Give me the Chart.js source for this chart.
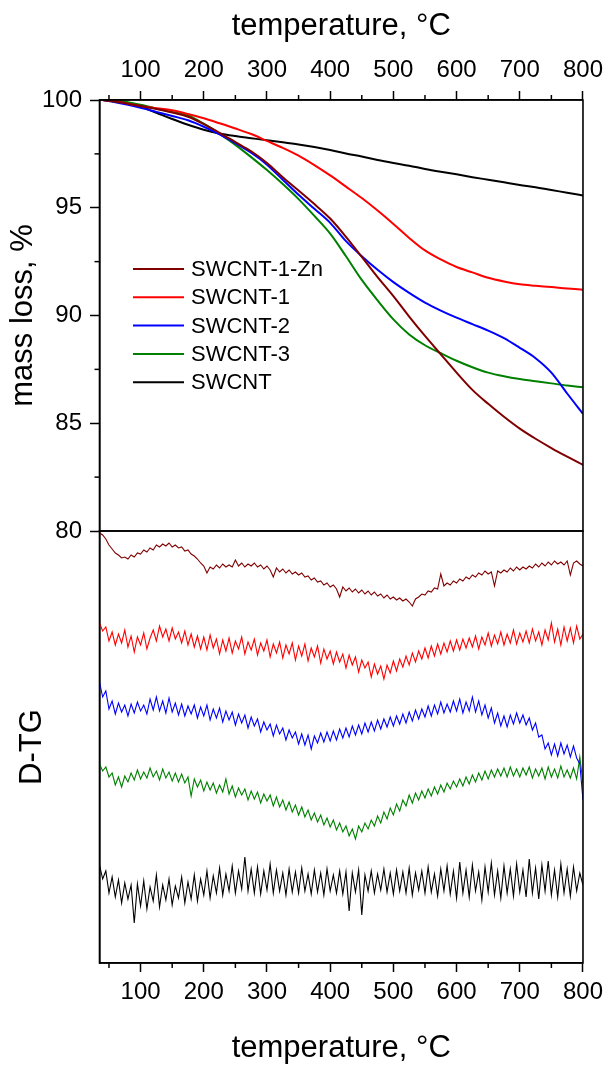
<!DOCTYPE html>
<html><head><meta charset="utf-8">
<script src="https://cdn.jsdelivr.net/npm/chart.js@4.4.1/dist/chart.umd.min.js"></script>
<style>
html,body{margin:0;padding:0;background:#fff;width:609px;height:1066px;overflow:hidden;}
#wrapTop{position:absolute;left:0;top:0;width:609px;height:560px;}
#wrapBot{position:absolute;left:0;top:500px;width:609px;height:580px;}
canvas{display:block;}
</style></head><body>
<div id="wrapTop"><canvas id="top" width="609" height="560"></canvas></div>
<div id="wrapBot"><canvas id="bot" width="609" height="580"></canvas></div>
<script>
// ---------- DATA ----------
const seriesNames = ['SWCNT-1-Zn', 'SWCNT-1', 'SWCNT-2', 'SWCNT-3', 'SWCNT'];
const seriesColors = ['#800000', '#ff0000', '#0000ff', '#008000', '#000000'];

const tempTicks = [100, 200, 300, 400, 500, 600, 700, 800];
const tempMinor = [50, 150, 250, 350, 450, 550, 650, 750];
const massTicks = [80, 85, 90, 95, 100];
const massMinor = [82.5, 87.5, 92.5, 97.5];

// TG (mass loss, %) temperatures
const tgTemps = [40,60,80,100,125,150,175,200,225,250,275,300,325,350,375,400,425,450,475,500,525,550,575,600,625,650,675,700,725,750,775,800];
const tgSWCNT1Zn = [100.0,99.92,99.83,99.72,99.58,99.42,99.22,98.88,98.48,98.05,97.62,97.08,96.42,95.8,95.17,94.5,93.65,92.72,91.78,90.9,89.95,89.05,88.2,87.35,86.55,85.9,85.3,84.75,84.28,83.85,83.45,83.07];
const tgSWCNT1 = [100.0,99.95,99.83,99.72,99.62,99.52,99.35,99.15,98.92,98.68,98.42,98.1,97.78,97.42,96.98,96.5,95.98,95.45,94.87,94.25,93.6,93.02,92.6,92.25,92.0,91.75,91.58,91.45,91.38,91.32,91.25,91.2];
const tgSWCNT2 = [100.0,99.9,99.78,99.64,99.45,99.26,99.06,98.76,98.4,98.0,97.55,97.0,96.3,95.6,94.95,94.3,93.45,92.75,92.12,91.55,91.05,90.6,90.23,89.9,89.6,89.3,88.95,88.5,88.02,87.35,86.38,85.44];
const tgSWCNT3 = [100.0,99.97,99.9,99.78,99.6,99.44,99.28,98.9,98.43,97.92,97.35,96.75,96.1,95.4,94.62,93.8,92.75,91.65,90.7,89.82,89.12,88.62,88.25,87.9,87.6,87.35,87.18,87.05,86.95,86.85,86.75,86.67];
const tgSWCNT = [100.0,99.97,99.86,99.7,99.4,99.12,98.85,98.62,98.45,98.33,98.23,98.13,98.04,97.94,97.82,97.68,97.52,97.38,97.22,97.08,96.95,96.8,96.67,96.55,96.42,96.3,96.18,96.06,95.95,95.82,95.7,95.57];

// D-TG temperatures (5 degC steps) and offset curves (arbitrary units)
const dtgTemps = [35,40,45,50,55,60,65,70,75,80,85,90,95,100,105,110,115,120,125,130,135,140,145,150,155,160,165,170,175,180,185,190,195,200,205,210,215,220,225,230,235,240,245,250,255,260,265,270,275,280,285,290,295,300,305,310,315,320,325,330,335,340,345,350,355,360,365,370,375,380,385,390,395,400,405,410,415,420,425,430,435,440,445,450,455,460,465,470,475,480,485,490,495,500,505,510,515,520,525,530,535,540,545,550,555,560,565,570,575,580,585,590,595,600,605,610,615,620,625,630,635,640,645,650,655,660,665,670,675,680,685,690,695,700,705,710,715,720,725,730,735,740,745,750,755,760,765,770,775,780,785,790,795,800];
const dtgSWCNT1Zn = [
430,428,424,418,414,410,408,405,406,404,
408,406,410,409,413,411,415,413,418,416,
419,417,420,416,418,415,416,412,413,409,
407,404,400,397,390,396,394,398,395,399,
396,398,396,403,397,400,396,399,397,400,
396,398,394,397,393,386,395,391,394,390,
393,389,391,388,390,386,387,383,385,381,
382,378,380,376,378,374,366,376,372,375,
371,374,370,373,369,372,368,371,367,369,
365,368,364,366,363,365,362,364,361,357,
364,366,369,368,372,371,375,374,389,377,
380,378,382,380,384,382,386,384,388,386,
390,388,392,389,391,377,392,390,393,391,
395,392,396,393,396,394,397,395,399,396,
400,397,401,398,402,399,401,398,402,388,
400,402,399,397];
const dtgSWCNT1 = [
340,332,336,322,331,318,329,320,333,316,
327,311,326,318,330,314,325,333,322,337,
326,334,322,335,324,331,320,332,318,329,
316,327,314,326,313,328,315,324,309,323,
312,325,310,322,314,326,309,321,313,324,
308,320,312,323,306,319,310,321,305,318,
309,320,303,317,307,319,302,315,306,317,
300,314,304,312,299,311,301,309,295,308,
298,306,291,303,295,301,286,299,289,297,
284,298,290,302,292,304,296,307,298,310,
301,312,304,315,305,317,307,319,309,320,
311,322,312,323,313,324,315,325,316,327,
314,326,318,330,317,328,319,331,318,329,
320,333,319,330,321,332,320,334,322,331,
318,333,323,340,321,334,318,336,322,335,
320,337,324,329];
const dtgSWCNT2 = [
281,266,272,254,262,249,260,251,258,247,
259,250,261,252,258,249,264,253,266,252,
262,250,265,251,260,248,259,247,257,249,
258,245,256,247,258,243,254,245,255,241,
252,243,251,238,249,240,248,235,246,237,
244,231,241,233,239,227,238,229,235,223,
233,225,231,219,229,218,228,214,227,220,
230,221,231,222,232,223,234,225,235,226,
237,228,238,229,240,231,241,232,243,234,
244,236,246,237,247,239,249,240,251,242,
253,244,254,246,257,247,258,249,261,250,
259,251,262,252,264,250,261,252,266,251,
262,248,258,245,255,240,250,237,247,236,
248,239,250,240,248,238,245,233,240,226,
228,214,220,208,219,207,220,209,218,206,
217,205,199,163];
const dtgSWCNT3 = [
199,192,196,186,190,178,186,176,187,181,
190,183,193,184,191,185,195,186,192,183,
194,185,191,182,190,181,189,180,186,167,
184,176,183,172,181,173,180,170,178,171,
184,169,177,166,175,168,174,163,172,164,
171,160,169,162,168,157,166,156,163,153,
161,151,158,148,156,146,153,143,150,141,
148,138,145,136,143,133,140,131,137,127,
134,124,137,131,140,134,143,137,147,140,
151,144,155,148,159,152,163,157,168,160,
170,163,172,165,174,167,176,169,178,171,
180,174,182,176,184,177,186,179,188,181,
190,183,192,184,193,186,194,187,195,186,
196,187,194,186,195,188,196,185,194,187,
195,184,196,186,194,185,197,186,193,185,
195,184,206,180];
const dtgSWCNT = [
98,84,92,70,86,66,83,60,80,64,
78,40,79,57,82,54,76,62,88,56,
78,63,84,58,77,65,86,60,81,64,
88,62,84,68,92,65,87,70,95,68,
89,72,97,70,92,74,106,72,94,70,
96,69,92,73,99,70,93,72,90,68,
94,71,91,70,95,72,89,69,93,71,
90,68,94,72,88,70,92,69,91,52,
90,71,93,48,88,72,92,70,89,73,
94,71,90,69,93,72,91,70,95,68,
90,73,92,70,96,71,89,67,94,72,
97,69,92,65,101,70,93,66,98,72,
91,63,96,71,100,68,92,65,97,70,
94,67,99,71,93,66,104,70,95,64,
98,72,102,68,93,66,99,70,94,67,
96,72,90,78];

// ---------- CHARTS ----------
const F = "'Liberation Sans', Arial, sans-serif";
Chart.defaults.font.family = F;
Chart.defaults.color = '#000';

const tgSeries = [tgSWCNT1Zn, tgSWCNT1, tgSWCNT2, tgSWCNT3, tgSWCNT];
const dtgSeries = [dtgSWCNT1Zn, dtgSWCNT1, dtgSWCNT2, dtgSWCNT3, dtgSWCNT];

const toPts = (xs, ys) => xs.map((x, i) => ({x: x, y: ys[i]}));

const framePlugin = {
  id: 'frame',
  afterDraw(chart, args, opts) {
    const {ctx, chartArea: a} = chart;
    ctx.save();
    ctx.strokeStyle = '#000'; ctx.lineWidth = 1.6;
    ctx.strokeRect(a.left, a.top, a.right - a.left, a.bottom - a.top);
    ctx.lineWidth = 1.5;
    if (opts.xId) {
      const s = chart.scales[opts.xId];
      const y0 = opts.xSide === 'top' ? a.top : a.bottom;
      const d = opts.xSide === 'top' ? -5 : 5;
      tempMinor.forEach(v => {
        const px = s.getPixelForValue(v);
        ctx.beginPath(); ctx.moveTo(px, y0); ctx.lineTo(px, y0 + d); ctx.stroke();
      });
    }
    if (opts.yMinor) {
      const s = chart.scales.y;
      opts.yMinor.forEach(v => {
        const py = s.getPixelForValue(v);
        ctx.beginPath(); ctx.moveTo(a.left, py); ctx.lineTo(a.left - 5, py); ctx.stroke();
      });
    }
    ctx.restore();
  }
};

const legendPlugin = {
  id: 'innerLegend',
  afterDraw(chart) {
    const ctx = chart.ctx;
    ctx.save();
    ctx.font = '22px ' + F;
    ctx.textBaseline = 'middle';
    ctx.textAlign = 'left';
    chart.data.datasets.forEach((ds, i) => {
      const y = 269 + i * 28.3;
      ctx.strokeStyle = ds.borderColor; ctx.lineWidth = 2;
      ctx.beginPath(); ctx.moveTo(133, y); ctx.lineTo(184, y); ctx.stroke();
      ctx.fillStyle = '#000';
      ctx.fillText(ds.label, 191, y + 1);
    });
    ctx.restore();
  }
};

const tickFont = {family: F, size: 24};
const titleFont = {family: F, size: 31};

new Chart(document.getElementById('top'), {
  type: 'line',
  data: {
    datasets: seriesNames.map((n, i) => ({
      label: n, data: toPts(tgTemps, tgSeries[i]),
      borderColor: seriesColors[i], borderWidth: 2, pointRadius: 0,
      cubicInterpolationMode: 'monotone', fill: false,
      xAxisID: 'xt', yAxisID: 'y'
    }))
  },
  options: {
    responsive: false, animation: false, devicePixelRatio: 1,
    layout: {padding: {left: 0, right: 24.5, top: 0, bottom: 29}},
    plugins: {legend: {display: false}, tooltip: {enabled: false},
      frame: {xId: 'xt', xSide: 'top', yMinor: massMinor}},
    scales: {
      xt: {
        type: 'linear', position: 'top', min: 35, max: 800,
        afterBuildTicks: s => { s.ticks = tempTicks.map(v => ({value: v})); },
        ticks: {font: tickFont, color: '#000', padding: 6, maxRotation: 0, autoSkip: false},
        grid: {drawOnChartArea: false, drawTicks: true, tickLength: 9, tickColor: '#000', tickWidth: 1.5},
        border: {display: true, color: '#000', width: 1.6},
        title: {display: true, text: 'temperature, °C', font: titleFont, color: '#000', padding: {top: 8, bottom: 0}},
        afterFit: s => { s.height = 100; }
      },
      y: {
        type: 'linear', position: 'left', min: 80, max: 100,
        afterBuildTicks: s => { s.ticks = massTicks.map(v => ({value: v})); },
        ticks: {font: tickFont, color: '#000', padding: 8},
        grid: {drawOnChartArea: false, drawTicks: true, tickLength: 9.5, tickColor: '#000', tickWidth: 1.5},
        border: {display: true, color: '#000', width: 1.6},
        title: {display: true, text: 'mass loss, %', font: titleFont, color: '#000', padding: {top: 5, bottom: 0}},
        afterFit: s => { s.width = 99.5; }
      }
    }
  },
  plugins: [framePlugin, legendPlugin]
});

new Chart(document.getElementById('bot'), {
  type: 'line',
  data: {
    datasets: seriesNames.map((n, i) => ({
      label: n, data: toPts(dtgTemps, dtgSeries[i]),
      borderColor: seriesColors[i], borderWidth: 1.1, pointRadius: 0,
      tension: 0, fill: false, xAxisID: 'xb', yAxisID: 'y'
    }))
  },
  options: {
    responsive: false, animation: false, devicePixelRatio: 1,
    layout: {padding: {left: 0, right: 24.5, top: 31, bottom: 0}},
    plugins: {legend: {display: false}, tooltip: {enabled: false},
      frame: {xId: 'xb', xSide: 'bottom'}},
    scales: {
      xb: {
        type: 'linear', position: 'bottom', min: 35, max: 800,
        afterBuildTicks: s => { s.ticks = tempTicks.map(v => ({value: v})); },
        ticks: {font: tickFont, color: '#000', padding: 6, maxRotation: 0, autoSkip: false},
        grid: {drawOnChartArea: false, drawTicks: true, tickLength: 9, tickColor: '#000', tickWidth: 1.5},
        border: {display: true, color: '#000', width: 1.6},
        title: {display: true, text: 'temperature, °C', font: titleFont, color: '#000', padding: {top: 0, bottom: 13}},
        afterFit: s => { s.height = 117; }
      },
      y: {
        type: 'linear', position: 'left', min: 0, max: 432,
        ticks: {display: false},
        grid: {display: false},
        border: {display: true, color: '#000', width: 1.6},
        title: {display: true, text: 'D-TG', font: titleFont, color: '#000', padding: {top: 13.4, bottom: 0}},
        afterFit: s => { s.width = 99.5; }
      }
    }
  },
  plugins: [framePlugin]
});
</script>
</body></html>
